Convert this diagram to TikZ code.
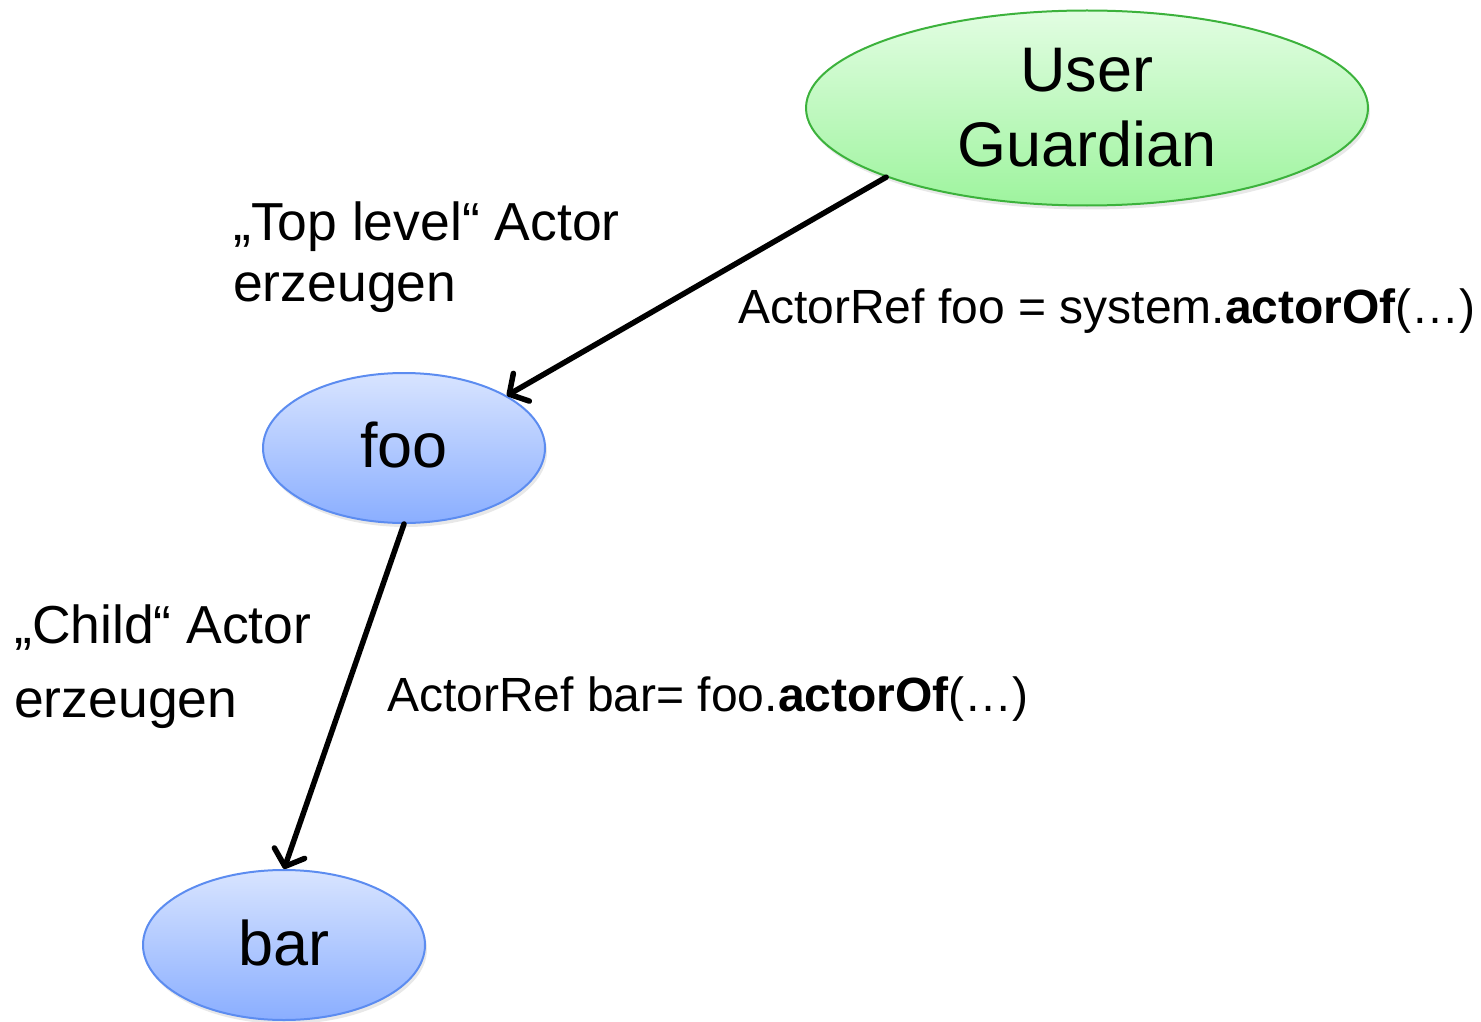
\documentclass[tikz,border=0pt]{standalone}
\usepackage{fontspec}
\setmainfont{Liberation Sans}
\usetikzlibrary{arrows.meta,shapes.geometric,shadows}

\definecolor{grTop}{RGB}{226,253,226}
\definecolor{grBot}{RGB}{158,244,158}
\definecolor{grLine}{RGB}{60,178,60}
\definecolor{blTop}{RGB}{216,228,255}
\definecolor{blBot}{RGB}{138,174,255}
\definecolor{blLine}{RGB}{92,140,240}

\tikzset{
  actor/.style={ellipse, inner sep=0pt, line width=2pt,
    drop shadow={opacity=0.18, shadow xshift=2pt, shadow yshift=-4pt}},
  greenactor/.style={actor, draw=grLine, top color=grTop, bottom color=grBot,
    minimum width=562pt, minimum height=195pt},
  blueactor/.style={actor, draw=blLine, top color=blTop, bottom color=blBot,
    minimum width=282pt, minimum height=150pt},
  bigtext/.style={anchor=base, inner sep=0pt, font=\fontsize{63}{75}\selectfont},
  note/.style={anchor=base west, inner sep=0pt, font=\fontsize{53.5}{63}\selectfont},
  code/.style={anchor=base west, inner sep=0pt, font=\fontsize{48}{58}\selectfont},
  create/.style={line width=5.5pt, line cap=round, line join=round,
    -{Straight Barb[length=14pt, width=32pt, line cap=round, line join=round]}}
}

\begin{document}
\begin{tikzpicture}[x=1pt, y=-1pt]
  \useasboundingbox (0,0) rectangle (1481,1022);

  % actors
  \node[greenactor] (ug)  at (1087,108) {};
  \node[blueactor]  (foo) at (404,448)  {};
  \node[blueactor]  (bar) at (284,945)  {};

  % actor names
  \node[bigtext] (ugA)  at (1087,92)  {User};
  \node[bigtext] (ugB)  at (1087,167) {Guardian};
  \node[bigtext] (fooT) at (404,467)  {foo};
  \node[bigtext] (barT) at (284,965)  {bar};

  % creation arrows
  \draw[create] (ug.199.4) -- (foo.27.7);
  \draw[create] (foo.south) -- (bar.north);

  % annotations
  \node[note] (top1) at (233,240) {„Top level“ Actor};
  \node[note] (top2) at (233,301) {erzeugen};
  \node[code] (topc) at (738,323) {ActorRef foo = system.\textbf{actorOf}(…)};

  \node[note] (ch1) at (14,643) {„Child“ Actor};
  \node[note] (ch2) at (14,717) {erzeugen};
  \node[code] (chc) at (387,711) {ActorRef bar= foo.\textbf{actorOf}(…)};
\end{tikzpicture}
\end{document}
